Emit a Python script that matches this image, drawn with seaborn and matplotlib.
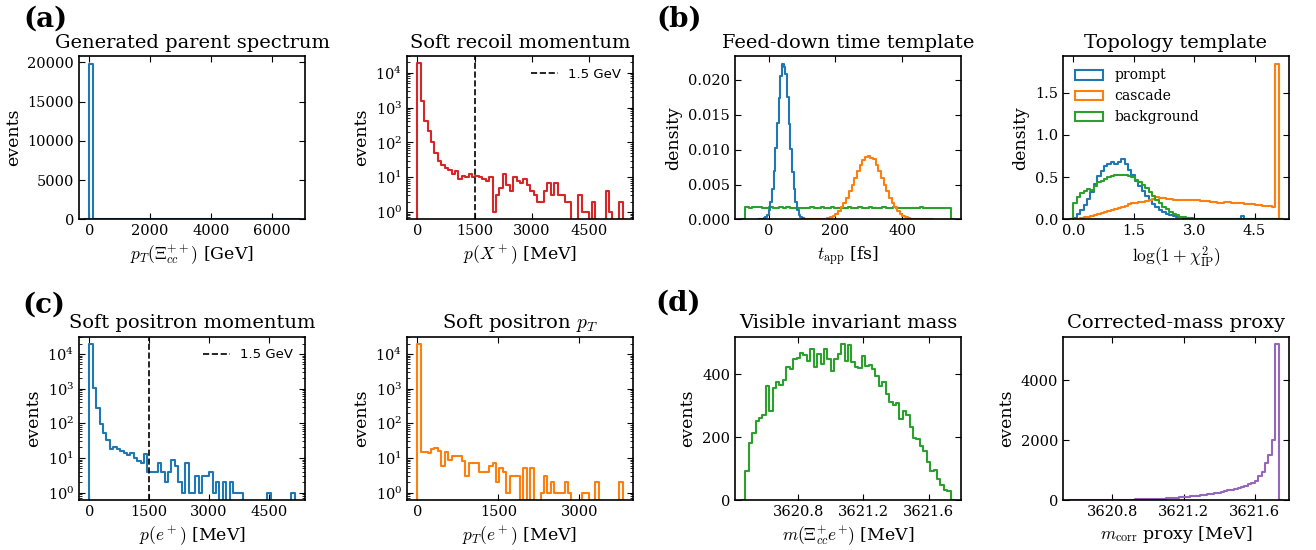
import numpy as np
import matplotlib
matplotlib.use("Agg")
import matplotlib.pyplot as plt
from matplotlib.patches import Patch
from matplotlib.lines import Line2D
import seaborn as sns

# ---------------- data: (lo, hi) range of equal-width bins + per-bin values ----------------
# (a) generated parent pT [GeV], 50 bins
parent_range = (0, 6750)
parent_counts = [19830, 120, 20, 8, 5, 3, 2, 2, 1, 1,
                 1, 0, 1, 0, 0, 0, 1, 0, 0, 0,
                 0, 0, 0, 0, 0, 0, 0, 0, 0, 0,
                 0, 0, 0, 0, 0, 0, 0, 0, 0, 0,
                 0, 0, 0, 0, 0, 0, 0, 0, 0, 1]

# (a) soft recoil momentum [MeV], 60 bins
recoil_range = (0, 5370)
recoil_counts = [18600, 1500, 400, 210, 100, 50, 30, 22, 19, 16,
                 12, 15, 9, 11, 10, 12, 10, 11, 10, 9,
                 8, 10, 1, 3, 5, 12, 6, 4, 10, 8,
                 7, 9, 6, 4, 3, 2, 2, 4, 7, 3,
                 7, 3, 3, 2, 2, 0, 0, 3, 1, 1,
                 0, 2, 0, 0, 0, 4, 1, 0, 0, 2]

# (b) feed-down time templates [fs] (density)
prompt_t_range = (-25, 115)
prompt_t = [0.00002, 0.00005, 0.00014, 0.00032, 0.00068, 0.00137, 0.00253, 0.00435, 0.0069, 0.0102,
            0.0138, 0.0174, 0.0205, 0.0223, 0.0219, 0.0209, 0.0176, 0.0137, 0.0101, 0.0068,
            0.0044, 0.0025, 0.00135, 0.0007, 0.00032, 0.00014, 0.00005, 0.00002]
cascade_t_range = (120, 480)
cascade_t = [0.000003, 0.000006, 0.000012, 0.000022, 0.000041, 0.000073, 0.000127, 0.000214, 0.000346, 0.000543,
             0.000825, 0.00121, 0.00172, 0.00236, 0.00313, 0.00402, 0.00499, 0.0060, 0.00697, 0.00783,
             0.00851, 0.00895, 0.0091, 0.00885, 0.00862, 0.00783, 0.00697, 0.0060, 0.00499, 0.00402,
             0.00313, 0.00236, 0.00172, 0.00121, 0.000825, 0.000543, 0.000346, 0.000214, 0.000127, 0.000073,
             0.000041, 0.000022, 0.000012, 0.000006, 0.000003]
bkg_t_range = (-70, 545)
bkg_t = [0.00178, 0.00165, 0.00180, 0.00172, 0.00176, 0.00168, 0.00160, 0.00174, 0.00170, 0.00166,
         0.00172, 0.00169, 0.00175, 0.00163, 0.00168, 0.00171, 0.00166, 0.00162, 0.00170, 0.00174,
         0.00165, 0.00169, 0.00172, 0.00160, 0.00167, 0.00173, 0.00166, 0.00170, 0.00164, 0.00171,
         0.00175, 0.00163, 0.00168, 0.00172, 0.00166, 0.00169, 0.00178, 0.00164, 0.00170, 0.00167,
         0.00172, 0.00161, 0.00168, 0.00174, 0.00166, 0.00170, 0.00165, 0.00171, 0.00168, 0.00163,
         0.00169, 0.00173, 0.00166, 0.00170, 0.00164, 0.00168, 0.00171, 0.00165, 0.00169, 0.00167]

# (b) topology templates, log(1 + chi2_IP), 60 bins (density)
topo_range = (0, 5.1)
topo_prompt = [0.02, 0.06, 0.11, 0.17, 0.24, 0.33, 0.42, 0.51, 0.57, 0.63,
               0.66, 0.68, 0.65, 0.68, 0.71, 0.66, 0.59, 0.52, 0.46, 0.40,
               0.34, 0.28, 0.23, 0.18, 0.15, 0.11, 0.09, 0.07, 0.055, 0.045,
               0.035, 0.028, 0.022, 0.018, 0.014, 0.011, 0.009, 0.007, 0.006, 0.005,
               0.004, 0.003, 0.003, 0.002, 0.002, 0.002, 0.001, 0.001, 0.001, 0.04,
               0, 0, 0, 0, 0, 0, 0, 0, 0, 0]
topo_cascade = [0.005, 0.01, 0.018, 0.025, 0.035, 0.045, 0.055, 0.07, 0.08, 0.09,
                0.10, 0.11, 0.12, 0.13, 0.145, 0.16, 0.18, 0.19, 0.20, 0.21,
                0.21, 0.22, 0.23, 0.24, 0.26, 0.25, 0.25, 0.24, 0.24, 0.23,
                0.23, 0.23, 0.235, 0.23, 0.23, 0.23, 0.225, 0.22, 0.22, 0.215,
                0.21, 0.21, 0.20, 0.20, 0.21, 0.205, 0.20, 0.20, 0.195, 0.19,
                0.185, 0.18, 0.18, 0.175, 0.17, 0.165, 0.16, 0.155, 0.15, 1.84]
topo_bkg = [0.20, 0.26, 0.31, 0.34, 0.36, 0.35, 0.40, 0.44, 0.46, 0.48,
            0.50, 0.51, 0.52, 0.53, 0.52, 0.53, 0.51, 0.50, 0.47, 0.44,
            0.41, 0.37, 0.33, 0.28, 0.23, 0.19, 0.15, 0.12, 0.09, 0.07,
            0.05, 0.035, 0.025, 0.015, 0.010, 0.006, 0.003, 0.002, 0.001, 0,
            0, 0, 0, 0, 0, 0, 0, 0, 0, 0,
            0, 0, 0, 0, 0, 0, 0, 0, 0, 0]
topo_labels = ["prompt", "cascade", "background"]

# (c) soft positron momentum and pT [MeV], 60 bins
positron_p_range = (0, 5150)
positron_p_counts = [19500, 1030, 280, 97, 52, 32, 18, 21, 18, 16,
                     14, 12, 14, 10, 8, 7, 13, 4, 4, 4,
                     7, 4, 2, 4, 9, 6, 2, 1, 7, 1,
                     1, 3, 1, 3, 3, 4, 1, 2, 0, 2,
                     0, 2, 1, 1, 1, 0, 0, 0, 0, 0,
                     0, 0, 1, 0, 0, 0, 0, 0, 0, 1]
positron_pt_range = (0, 3800)
positron_pt_counts = [19500, 15, 15, 14, 18, 19, 16, 6, 15, 9,
                      11, 11, 11, 8, 3, 7, 7, 7, 4, 4,
                      4, 6, 7, 2, 5, 4, 1, 3, 3, 3,
                      0, 5, 0, 5, 0, 0, 1, 3, 1, 2,
                      1, 1, 1, 2, 1, 0, 0, 0, 1, 1,
                      0, 0, 2, 0, 0, 0, 0, 0, 0, 2]

# (d) visible invariant mass and corrected-mass proxy [MeV], 60 bins
mvis_range = (3620.475, 3621.735)
mvis_counts = [93, 180, 215, 253, 260, 271, 362, 285, 356, 375,
               365, 381, 425, 416, 450, 453, 469, 463, 443, 480,
               425, 464, 432, 480, 450, 410, 450, 466, 496, 442,
               495, 440, 423, 420, 459, 427, 429, 418, 395, 362,
               375, 338, 311, 303, 309, 258, 282, 271, 234, 199,
               194, 173, 157, 122, 93, 96, 66, 48, 32, 29]
mcorr_range = (3620.58, 3621.735)
mcorr_counts = [1, 1, 1, 2, 2, 3, 3, 4, 5, 5,
                6, 7, 8, 9, 11, 12, 14, 16, 18, 21,
                24, 27, 31, 35, 40, 45, 50, 57, 64, 72,
                80, 90, 100, 110, 122, 135, 150, 165, 180, 195,
                210, 230, 250, 270, 290, 320, 340, 360, 400, 430,
                470, 520, 580, 640, 800, 920, 1220, 1500, 2000, 5200]

cut_value = 1500
cut_label = "1.5 GeV"
ticks_parent = [0, 2000, 4000, 6000]
ticks_mom = [0, 1500, 3000, 4500]
ticks_pt = [0, 1500, 3000]
ticks_time = [0, 200, 400]
ticks_topo = [0.0, 1.5, 3.0, 4.5]
ticks_mass = [3620.8, 3621.2, 3621.6]

# ---------------- style ----------------
plt.rcParams.update({
    "font.family": "serif",
    "font.serif": ["DejaVu Serif"],
    "mathtext.fontset": "cm",
    "axes.linewidth": 1.2,
    "xtick.direction": "in",
    "ytick.direction": "in",
    "xtick.top": True,
    "ytick.right": True,
    "xtick.major.size": 4,
    "ytick.major.size": 4,
    "xtick.minor.size": 2,
    "ytick.minor.size": 2,
    "xtick.labelsize": 10.5,
    "ytick.labelsize": 10.5,
    "axes.labelsize": 12.5,
    "axes.titlesize": 14,
})
pal = sns.color_palette("tab10")
c_blue, c_orange, c_green, c_red, c_purple = pal[0], pal[1], pal[2], pal[3], pal[4]


def step_hist(ax, rng, values, color):
    values = np.asarray(values, float)
    edges = np.linspace(rng[0], rng[1], len(values) + 1)
    w = edges[1] - edges[0]
    # one empty bin either side so the outline drops down to the axis
    edges_p = np.r_[edges[0] - w, edges, edges[-1] + w]
    centers = 0.5 * (edges_p[1:] + edges_p[:-1])
    sns.histplot(x=centers, weights=np.r_[0, values, 0], bins=list(edges_p),
                 element="step", fill=False, color=color, linewidth=1.5, ax=ax)


def finish(ax, ranges, values_list, xticks, log=False):
    lo = min(r[0] for r in ranges)
    hi = max(r[1] for r in ranges)
    span = hi - lo
    ax.set_xlim(lo - 0.05 * span, hi + 0.05 * span)
    ax.set_xticks(xticks)
    vals = np.concatenate([np.asarray(v, float) for v in values_list])
    if log:
        ax.set_yscale("log")
        a, b = np.log10(vals[vals > 0].min()), np.log10(vals.max())
        m = 0.05 * (b - a)
        ax.set_ylim(10 ** (a - m), 10 ** (b + m))
    else:
        ax.set_ylim(0, vals.max() * 1.05)
        ax.ticklabel_format(axis="x", useOffset=False)
    ax.tick_params(which="both", top=True, right=True, direction="in")


fig, axes = plt.subplots(2, 4, figsize=(13.16, 5.5), dpi=100)
fig.subplots_adjust(left=79 / 1316, right=1289 / 1316, bottom=50 / 550, top=494 / 550,
                    wspace=0.451, hspace=0.716)

# (a) left
ax = axes[0, 0]
step_hist(ax, parent_range, parent_counts, c_blue)
finish(ax, [parent_range], [parent_counts], ticks_parent)
ax.set_title("Generated parent spectrum")
ax.set_xlabel(r"$p_T(\Xi_{cc}^{++})$ [GeV]")
ax.set_ylabel("events")

# (a) right
ax = axes[0, 1]
step_hist(ax, recoil_range, recoil_counts, c_red)
finish(ax, [recoil_range], [recoil_counts], ticks_mom, log=True)
ax.axvline(cut_value, color="black", linestyle="--", linewidth=1.2)
ax.legend(handles=[Line2D([], [], color="black", linestyle="--", linewidth=1.2)], labels=[cut_label],
          loc="upper right", frameon=False, prop={"family": "DejaVu Sans", "size": 9.5})
ax.set_title("Soft recoil momentum")
ax.set_xlabel(r"$p(X^+)$ [MeV]")
ax.set_ylabel("events")

# (b) left
ax = axes[0, 2]
step_hist(ax, bkg_t_range, bkg_t, c_green)
step_hist(ax, prompt_t_range, prompt_t, c_blue)
step_hist(ax, cascade_t_range, cascade_t, c_orange)
finish(ax, [prompt_t_range, cascade_t_range, bkg_t_range], [prompt_t, cascade_t, bkg_t], ticks_time)
ax.set_title("Feed-down time template")
ax.set_xlabel(r"$t_{\mathrm{app}}$ [fs]")
ax.set_ylabel("density")

# (b) right
ax = axes[0, 3]
topo_vals = [topo_prompt, topo_cascade, topo_bkg]
topo_cols = [c_blue, c_orange, c_green]
for v, c in zip(topo_vals, topo_cols):
    step_hist(ax, topo_range, v, c)
finish(ax, [topo_range], topo_vals, ticks_topo)
ax.legend(handles=[Patch(facecolor="none", edgecolor=c, linewidth=1.5) for c in topo_cols],
          labels=topo_labels, loc="upper left", frameon=False, fontsize=10)
ax.set_title("Topology template")
ax.set_xlabel(r"$\log(1+\chi^2_{\mathrm{IP}})$")
ax.set_ylabel("density")

# (c) left
ax = axes[1, 0]
step_hist(ax, positron_p_range, positron_p_counts, c_blue)
finish(ax, [positron_p_range], [positron_p_counts], ticks_mom, log=True)
ax.axvline(cut_value, color="black", linestyle="--", linewidth=1.2)
ax.legend(handles=[Line2D([], [], color="black", linestyle="--", linewidth=1.2)], labels=[cut_label],
          loc="upper right", frameon=False, prop={"family": "DejaVu Sans", "size": 9.5})
ax.set_title("Soft positron momentum")
ax.set_xlabel(r"$p(e^+)$ [MeV]")
ax.set_ylabel("events")

# (c) right
ax = axes[1, 1]
step_hist(ax, positron_pt_range, positron_pt_counts, c_orange)
finish(ax, [positron_pt_range], [positron_pt_counts], ticks_pt, log=True)
ax.set_title(r"Soft positron $p_T$")
ax.set_xlabel(r"$p_T(e^+)$ [MeV]")
ax.set_ylabel("events")

# (d) left
ax = axes[1, 2]
step_hist(ax, mvis_range, mvis_counts, c_green)
finish(ax, [mvis_range], [mvis_counts], ticks_mass)
ax.set_title("Visible invariant mass")
ax.set_xlabel(r"$m(\Xi_{cc}^{+}e^{+})$ [MeV]")
ax.set_ylabel("events")

# (d) right
ax = axes[1, 3]
step_hist(ax, mcorr_range, mcorr_counts, c_purple)
finish(ax, [mcorr_range], [mcorr_counts], ticks_mass)
ax.set_title("Corrected-mass proxy")
ax.set_xlabel(r"$m_{\mathrm{corr}}$ proxy [MeV]")
ax.set_ylabel("events")

# panel letters
for x, y, s in [(0.018, 0.99, "(a)"), (0.499, 0.99, "(b)"), (0.017, 0.469, "(c)"), (0.498, 0.474, "(d)")]:
    fig.text(x, y, s, fontsize=20, fontweight="bold", va="top", ha="left")

fig.savefig("out.png", dpi=100)
